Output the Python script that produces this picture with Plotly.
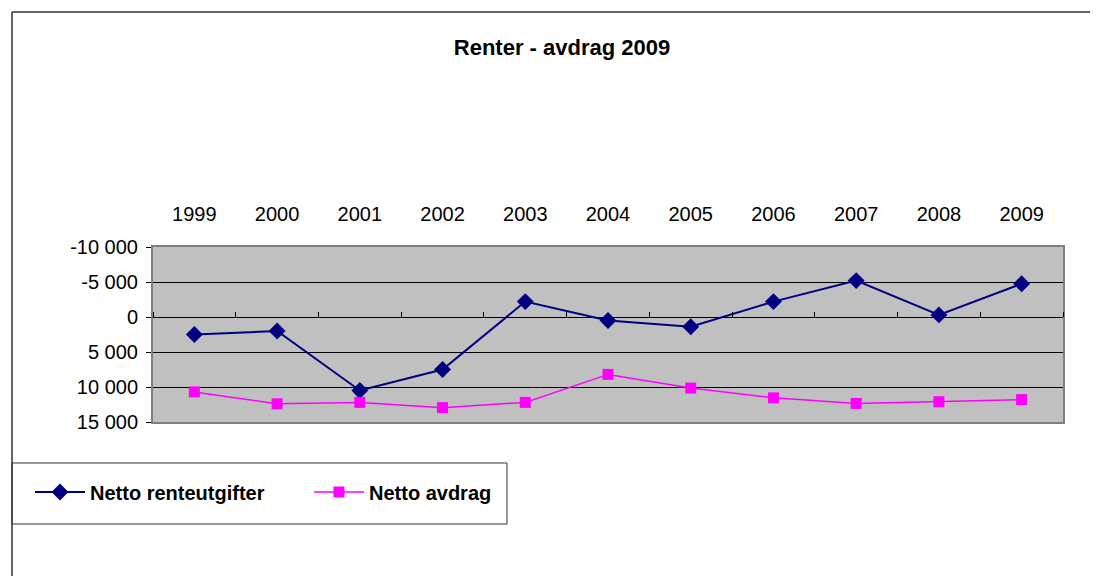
import plotly.graph_objects as go

years = ["1999", "2000", "2001", "2002", "2003", "2004", "2005", "2006", "2007", "2008", "2009"]
renteutgifter = [2500, 2000, 10500, 7500, -2200, 500, 1400, -2200, -5200, -300, -4750]
avdrag = [10700, 12400, 12200, 12950, 12200, 8200, 10150, 11550, 12350, 12100, 11800]

ytick_vals = [-10000, -5000, 0, 5000, 10000, 15000]
ytick_text = ["-10 000", "-5 000", "0", "5 000", "10 000", "15 000"]

# the page body adds an 8px offset, so the figure is a bit smaller
OFF = 8
W, H = 1098 - OFF, 576 - OFF
L, R, T, B = 153 - OFF, 35, 247 - OFF, 154
pw, ph = W - L - R, H - T - B


def px_x(x):
    # x in screen pixels -> paper
    return (x - OFF - L) / pw


def px_y(y):
    return (H - B - (y - OFF)) / ph


FONT = "Liberation Sans, Arial, sans-serif"

fig = go.Figure()
fig.add_trace(go.Scatter(x=years, y=renteutgifter, name="Netto renteutgifter",
                         mode="lines+markers",
                         line=dict(color="#000080", width=2),
                         marker=dict(symbol="diamond", size=13, color="#000080")))
fig.add_trace(go.Scatter(x=years, y=avdrag, name="Netto avdrag",
                         mode="lines+markers",
                         line=dict(color="#FF00FF", width=1.5),
                         marker=dict(symbol="square", size=11, color="#FF00FF")))
# invisible trace so the tick axis on the zero line gets its categories
fig.add_trace(go.Scatter(x=years, y=renteutgifter, xaxis="x2", mode="markers",
                         marker=dict(opacity=0), showlegend=False, hoverinfo="skip"))

# chart frame + legend box
fig.add_shape(type="line", xref="paper", yref="paper",
              x0=px_x(12), x1=px_x(12), y0=px_y(12), y1=px_y(590),
              line=dict(color="#333333", width=1.5))
fig.add_shape(type="line", xref="paper", yref="paper",
              x0=px_x(12), x1=px_x(1110), y0=px_y(12), y1=px_y(12),
              line=dict(color="#333333", width=1.5))
fig.add_shape(type="rect", xref="paper", yref="paper",
              x0=px_x(12), x1=px_x(507), y0=px_y(524), y1=px_y(463),
              line=dict(color="#333333", width=1))

fig.update_layout(
    width=W, height=H,
    margin=dict(l=L, r=R, t=T, b=B),
    paper_bgcolor="white", plot_bgcolor="#C0C0C0",
    font=dict(family=FONT, size=20, color="black"),
    title=dict(text="<b>Renter - avdrag 2009</b>", x=(562 - OFF) / W, xanchor="center",
               y=1 - (47 - OFF) / H, yanchor="middle", yref="container",
               font=dict(size=22, family=FONT)),
    showlegend=True,
    legend=dict(orientation="h", x=px_x(30), y=px_y(492), xanchor="left", yanchor="middle",
                bgcolor="rgba(0,0,0,0)", borderwidth=0, entrywidth=214, itemwidth=50,
                font=dict(size=20, family=FONT, weight="bold")),
    xaxis=dict(type="category", side="top", showline=True, mirror=True,
               linecolor="#808080", linewidth=2, showgrid=False, ticks="",
               ticklabelstandoff=16, range=[-0.5, 10.5], zeroline=False),
    xaxis2=dict(type="category", overlaying="x", anchor="free", position=0.6,
                side="top", ticks="outside", ticklen=5, tickcolor="black",
                tickson="boundaries", showticklabels=False, showgrid=False,
                showline=False, range=[-0.5, 10.5]),
    yaxis=dict(range=[15000, -10000], tickvals=ytick_vals, ticktext=ytick_text,
               showline=True, mirror=True, linecolor="#808080", linewidth=2,
               showgrid=True, gridcolor="black", gridwidth=1,
               zeroline=True, zerolinecolor="black", zerolinewidth=1,
               ticks="outside", ticklen=5, tickcolor="black", ticklabelstandoff=4),
)

fig.write_html("out.html")
